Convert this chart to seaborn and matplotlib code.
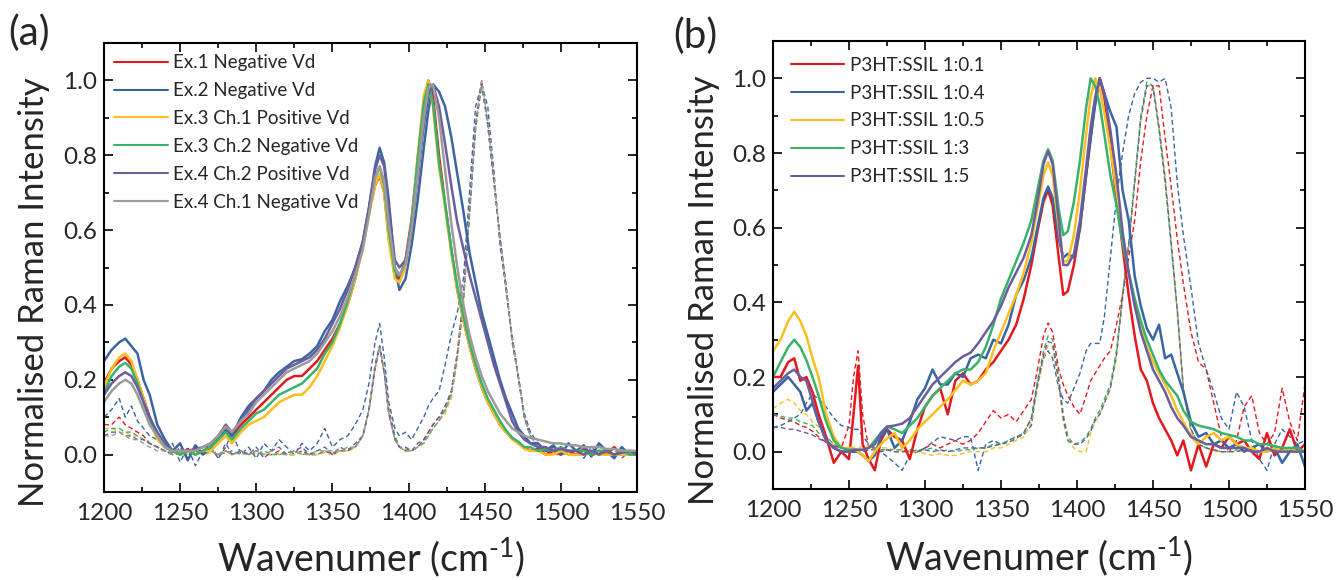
import matplotlib
matplotlib.use("Agg")
import matplotlib.pyplot as plt
import seaborn as sns
import pandas as pd
from matplotlib.lines import Line2D
from matplotlib.ticker import MultipleLocator, FormatStrFormatter

# ---------------- Panel (a) data ----------------
wn_a = [1200, 1205, 1210, 1214, 1218, 1222, 1226, 1230, 1235, 1240,
        1245, 1250, 1255, 1260, 1265, 1270, 1275, 1280, 1284, 1290,
        1295, 1300, 1305, 1310, 1315, 1320, 1325, 1330, 1335, 1340,
        1345, 1350, 1355, 1360, 1365, 1370, 1374, 1378, 1381, 1384,
        1387, 1391, 1394, 1398, 1402, 1406, 1410, 1413, 1416, 1420,
        1424, 1428, 1432, 1436, 1440, 1444, 1448, 1452, 1456, 1460,
        1464, 1468, 1472, 1476, 1480, 1485, 1490, 1495, 1500, 1505,
        1510, 1515, 1520, 1525, 1530, 1535, 1540, 1545, 1550]

a_labels = ["Ex.1 Negative Vd", "Ex.2 Negative Vd", "Ex.3 Ch.1 Positive Vd",
            "Ex.3 Ch.2 Negative Vd", "Ex.4 Ch.2 Positive Vd", "Ex.4 Ch.1 Negative Vd"]

a_ex1_solid = [0.19, 0.23, 0.25, 0.26, 0.24, 0.20, 0.15, 0.10, 0.05, 0.02,
               0.01, 0.00, 0.015, 0.00, 0.01, 0.02, 0.04, 0.065, 0.05, 0.08,
               0.10, 0.12, 0.14, 0.16, 0.18, 0.20, 0.21, 0.21, 0.23, 0.25,
               0.28, 0.31, 0.35, 0.40, 0.47, 0.56, 0.65, 0.72, 0.745, 0.70,
               0.58, 0.48, 0.47, 0.52, 0.63, 0.79, 0.93, 1.00, 0.96, 0.80,
               0.67, 0.55, 0.44, 0.36, 0.29, 0.23, 0.18, 0.14, 0.11, 0.08,
               0.06, 0.045, 0.03, 0.02, 0.01, 0.015, 0.0, 0.01, 0.0, 0.01,
               0.0, 0.015, 0.005, 0.01, 0.0, 0.02, 0.0, 0.01, 0.005]
a_ex2_solid = [0.25, 0.28, 0.30, 0.31, 0.29, 0.27, 0.20, 0.16, 0.08, 0.04,
               0.01, 0.03, -0.015, 0.025, 0.00, 0.02, 0.045, 0.07, 0.05, 0.10,
               0.13, 0.15, 0.17, 0.20, 0.22, 0.235, 0.25, 0.255, 0.27, 0.29,
               0.33, 0.36, 0.41, 0.45, 0.50, 0.57, 0.66, 0.77, 0.82, 0.78,
               0.68, 0.50, 0.44, 0.47, 0.56, 0.68, 0.82, 0.92, 0.99, 0.97,
               0.93, 0.85, 0.75, 0.65, 0.54, 0.46, 0.38, 0.32, 0.26, 0.20,
               0.15, 0.11, 0.07, 0.05, 0.03, 0.03, 0.01, 0.025, 0.0, 0.03,
               0.01, 0.025, -0.005, 0.03, 0.01, -0.01, 0.02, 0.0, 0.01]
a_ex3c1_solid = [0.18, 0.23, 0.26, 0.27, 0.25, 0.20, 0.15, 0.09, 0.04, 0.02,
                 0.01, 0.0, 0.01, 0.0, 0.01, 0.01, 0.03, 0.05, 0.03, 0.06,
                 0.08, 0.09, 0.10, 0.12, 0.14, 0.15, 0.16, 0.16, 0.18, 0.21,
                 0.25, 0.29, 0.34, 0.40, 0.47, 0.55, 0.64, 0.72, 0.75, 0.70,
                 0.57, 0.47, 0.46, 0.50, 0.62, 0.80, 0.96, 1.00, 0.93, 0.77,
                 0.66, 0.54, 0.44, 0.36, 0.29, 0.23, 0.18, 0.14, 0.11, 0.08,
                 0.06, 0.04, 0.03, 0.015, 0.01, 0.01, 0.0, 0.0, 0.01, 0.0,
                 0.0, 0.0, 0.01, 0.0, 0.0, 0.0, 0.0, 0.0, 0.0]
a_ex3c2_solid = [0.165, 0.21, 0.235, 0.245, 0.23, 0.19, 0.14, 0.09, 0.05, 0.02,
                 0.01, 0.0, 0.01, 0.0, 0.01, 0.02, 0.04, 0.06, 0.04, 0.07,
                 0.09, 0.11, 0.12, 0.14, 0.16, 0.17, 0.18, 0.19, 0.21, 0.23,
                 0.27, 0.30, 0.35, 0.41, 0.48, 0.56, 0.65, 0.74, 0.77, 0.72,
                 0.60, 0.49, 0.48, 0.51, 0.62, 0.79, 0.94, 0.99, 0.94, 0.78,
                 0.67, 0.55, 0.45, 0.37, 0.30, 0.24, 0.19, 0.15, 0.12, 0.09,
                 0.065, 0.045, 0.035, 0.02, 0.02, 0.01, 0.015, 0.01, 0.02, 0.01,
                 0.01, 0.01, 0.0, 0.01, 0.01, 0.0, 0.01, 0.0, 0.0]
a_ex4c2_solid = [0.16, 0.19, 0.21, 0.22, 0.21, 0.18, 0.14, 0.10, 0.06, 0.03,
                 0.01, 0.01, 0.01, 0.015, 0.02, 0.03, 0.05, 0.08, 0.06, 0.09,
                 0.12, 0.15, 0.17, 0.19, 0.21, 0.23, 0.24, 0.25, 0.26, 0.28,
                 0.31, 0.35, 0.39, 0.44, 0.50, 0.57, 0.66, 0.76, 0.80, 0.77,
                 0.66, 0.52, 0.50, 0.52, 0.60, 0.74, 0.88, 0.96, 0.99, 0.93,
                 0.83, 0.72, 0.62, 0.55, 0.48, 0.42, 0.36, 0.30, 0.24, 0.19,
                 0.14, 0.09, 0.06, 0.04, 0.03, 0.02, 0.02, 0.01, 0.015, 0.01,
                 0.01, 0.0, 0.01, 0.0, 0.01, 0.0, 0.005, 0.01, 0.0]
a_ex4c1_solid = [0.14, 0.17, 0.19, 0.20, 0.19, 0.16, 0.12, 0.08, 0.05, 0.02,
                 0.01, 0.01, 0.01, 0.01, 0.02, 0.03, 0.05, 0.075, 0.06, 0.09,
                 0.11, 0.14, 0.16, 0.18, 0.20, 0.22, 0.23, 0.24, 0.25, 0.27,
                 0.30, 0.33, 0.37, 0.42, 0.48, 0.55, 0.64, 0.74, 0.77, 0.73,
                 0.62, 0.50, 0.48, 0.51, 0.60, 0.75, 0.90, 0.98, 0.99, 0.90,
                 0.76, 0.62, 0.50, 0.40, 0.32, 0.26, 0.21, 0.17, 0.14, 0.11,
                 0.09, 0.07, 0.06, 0.05, 0.045, 0.04, 0.035, 0.03, 0.03, 0.025,
                 0.025, 0.02, 0.02, 0.02, 0.015, 0.015, 0.01, 0.01, 0.01]

a_ex1_dash = [0.08, 0.08, 0.10, 0.08, 0.07, 0.06, 0.05, 0.03, 0.02, 0.01,
              0.0, 0.01, 0.0, 0.01, 0.0, 0.01, 0.0, 0.01, 0.0, 0.01,
              0.0, 0.01, 0.0, 0.0, 0.01, 0.0, 0.0, 0.01, 0.0, 0.0,
              0.01, 0.0, 0.01, 0.01, 0.02, 0.05, 0.12, 0.24, 0.29, 0.22,
              0.12, 0.05, 0.02, 0.01, 0.01, 0.02, 0.04, 0.06, 0.08, 0.10,
              0.12, 0.165, 0.27, 0.42, 0.65, 0.88, 1.0, 0.88, 0.73, 0.58,
              0.45, 0.30, 0.21, 0.10, 0.05, 0.02, 0.01, 0.0, 0.01, 0.0,
              0.0, 0.01, 0.0, 0.0, 0.01, 0.0, 0.0, 0.01, 0.0]
a_ex2_dash = [0.10, 0.12, 0.15, 0.10, 0.13, 0.09, 0.07, 0.05, 0.04, 0.02,
              0.03, -0.02, 0.02, -0.03, 0.01, 0.03, -0.01, 0.02, 0.06, 0.00,
              0.02, -0.01, 0.03, 0.01, 0.04, 0.02, 0.00, 0.03, 0.01, 0.03,
              0.07, 0.02, 0.04, 0.05, 0.08, 0.12, 0.19, 0.30, 0.35, 0.26,
              0.14, 0.07, 0.05, 0.06, 0.04, 0.07, 0.10, 0.13, 0.15, 0.17,
              0.24, 0.32, 0.38, 0.47, 0.70, 0.93, 0.99, 0.93, 0.76, 0.56,
              0.44, 0.32, 0.21, 0.11, 0.06, 0.03, 0.0, 0.02, 0.0, 0.03,
              0.01, -0.01, 0.02, 0.0, 0.01, 0.02, -0.01, 0.01, 0.0]
a_ex3c1_dash = [0.07, 0.07, 0.06, 0.06, 0.05, 0.05, 0.04, 0.03, 0.02, 0.01,
                0.0, 0.005, 0.0, 0.01, 0.0, 0.005, 0.0, 0.01, 0.0, 0.005,
                0.0, 0.005, 0.0, 0.0, 0.005, 0.0, 0.0, 0.005, 0.0, 0.0,
                0.005, 0.0, 0.01, 0.01, 0.02, 0.05, 0.12, 0.23, 0.29, 0.22,
                0.11, 0.04, 0.02, 0.01, 0.01, 0.02, 0.03, 0.05, 0.07, 0.09,
                0.11, 0.15, 0.25, 0.40, 0.64, 0.87, 0.99, 0.89, 0.74, 0.58,
                0.45, 0.31, 0.21, 0.10, 0.05, 0.02, 0.01, 0.0, 0.005, 0.0,
                0.0, 0.005, 0.0, 0.0, 0.005, 0.0, 0.0, 0.005, 0.0]
a_ex3c2_dash = [0.06, 0.07, 0.07, 0.06, 0.06, 0.05, 0.04, 0.03, 0.02, 0.01,
                0.005, 0.0, 0.01, 0.0, 0.005, 0.01, 0.0, 0.005, 0.01, 0.0,
                0.005, 0.0, 0.01, 0.0, 0.0, 0.005, 0.01, 0.0, 0.005, 0.0,
                0.01, 0.005, 0.01, 0.015, 0.02, 0.05, 0.12, 0.23, 0.29, 0.22,
                0.11, 0.05, 0.02, 0.015, 0.01, 0.02, 0.035, 0.05, 0.07, 0.09,
                0.12, 0.16, 0.26, 0.41, 0.64, 0.87, 0.99, 0.89, 0.74, 0.58,
                0.45, 0.31, 0.21, 0.10, 0.05, 0.02, 0.01, 0.005, 0.0, 0.005,
                0.0, 0.005, 0.0, 0.005, 0.0, 0.0, 0.005, 0.0, 0.0]
a_ex4c2_dash = [0.05, 0.06, 0.06, 0.05, 0.05, 0.04, 0.04, 0.03, 0.02, 0.01,
                0.0, 0.02, -0.01, 0.02, 0.0, 0.02, -0.01, 0.03, 0.0, 0.01,
                0.0, 0.02, -0.01, 0.01, 0.02, 0.0, 0.01, 0.02, 0.0, 0.01,
                0.02, 0.0, 0.02, 0.01, 0.03, 0.05, 0.12, 0.23, 0.29, 0.22,
                0.11, 0.04, 0.02, 0.02, 0.01, 0.03, 0.04, 0.06, 0.08, 0.10,
                0.13, 0.17, 0.27, 0.42, 0.65, 0.88, 0.99, 0.88, 0.73, 0.58,
                0.45, 0.31, 0.21, 0.10, 0.05, 0.02, 0.01, 0.0, 0.01, 0.0,
                0.0, 0.01, 0.0, 0.0, 0.01, 0.0, 0.0, 0.01, 0.0]
a_ex4c1_dash = [0.05, 0.05, 0.06, 0.05, 0.04, 0.04, 0.03, 0.02, 0.01, 0.01,
                0.0, 0.01, 0.0, 0.01, 0.0, 0.01, 0.0, 0.01, 0.0, 0.01,
                0.0, 0.01, 0.0, 0.01, 0.0, 0.0, 0.01, 0.0, 0.0, 0.01,
                0.01, 0.01, 0.01, 0.02, 0.02, 0.05, 0.12, 0.23, 0.29, 0.22,
                0.11, 0.04, 0.02, 0.01, 0.01, 0.02, 0.03, 0.05, 0.07, 0.09,
                0.12, 0.16, 0.26, 0.41, 0.65, 0.88, 1.0, 0.89, 0.74, 0.58,
                0.45, 0.31, 0.21, 0.10, 0.05, 0.02, 0.01, 0.0, 0.0, 0.01,
                0.0, 0.0, 0.01, 0.0, 0.0, 0.01, 0.0, 0.0, 0.0]

# ---------------- Panel (b) data ----------------
wn_b = [1200, 1205, 1210, 1214, 1218, 1222, 1226, 1230, 1235, 1240,
        1245, 1250, 1253, 1256, 1259, 1263, 1267, 1271, 1275, 1280,
        1285, 1290, 1295, 1300, 1305, 1310, 1315, 1320, 1325, 1330,
        1335, 1340, 1345, 1350, 1355, 1360, 1365, 1370, 1374, 1378,
        1381, 1384, 1388, 1391, 1394, 1398, 1402, 1406, 1409, 1412,
        1415, 1418, 1422, 1426, 1430, 1434, 1438, 1442, 1446, 1450,
        1454, 1458, 1462, 1466, 1470, 1475, 1480, 1485, 1490, 1495,
        1500, 1505, 1510, 1515, 1520, 1525, 1530, 1535, 1540, 1545,
        1550]

b_labels = ["P3HT:SSIL 1:0.1", "P3HT:SSIL 1:0.4", "P3HT:SSIL 1:0.5",
            "P3HT:SSIL 1:3", "P3HT:SSIL 1:5"]

b_r01_solid = [0.20, 0.20, 0.24, 0.25, 0.19, 0.20, 0.16, 0.10, 0.04, -0.03,
               0.00, -0.02, 0.10, 0.23, 0.02, -0.02, -0.05, 0.03, 0.06, 0.04,
               0.03, -0.02, 0.06, 0.12, 0.15, 0.17, 0.10, 0.19, 0.21, 0.18,
               0.19, 0.22, 0.24, 0.27, 0.30, 0.34, 0.41, 0.50, 0.59, 0.67,
               0.70, 0.66, 0.52, 0.42, 0.43, 0.50, 0.60, 0.74, 0.84, 0.94,
               1.00, 0.95, 0.82, 0.68, 0.55, 0.42, 0.31, 0.22, 0.19, 0.13,
               0.09, 0.06, 0.03, -0.01, 0.03, -0.05, 0.02, -0.04, 0.02, 0.01,
               0.04, 0.02, 0.03, 0.0, -0.02, 0.05, -0.01, 0.01, 0.06, 0.0,
               0.02]
b_r04_solid = [0.16, 0.18, 0.20, 0.18, 0.16, 0.11, 0.13, 0.08, 0.03, 0.01,
               0.00, 0.00, 0.00, 0.00, -0.01, -0.025, -0.01, 0.04, 0.06, 0.01,
               0.03, 0.08, 0.14, 0.17, 0.22, 0.18, 0.18, 0.21, 0.20, 0.25,
               0.26, 0.25, 0.30, 0.29, 0.34, 0.42, 0.46, 0.52, 0.60, 0.68,
               0.71, 0.68, 0.57, 0.52, 0.53, 0.52, 0.60, 0.74, 0.84, 0.93,
               1.00, 0.96, 0.91, 0.87, 0.70, 0.62, 0.47, 0.39, 0.33, 0.30,
               0.34, 0.25, 0.26, 0.21, 0.16, 0.08, 0.04, 0.05, 0.02, 0.03,
               0.01, 0.02, 0.00, 0.01, 0.02, 0.0, 0.01, -0.03, 0.0, 0.02,
               -0.04]
b_r05_solid = [0.27, 0.30, 0.35, 0.375, 0.35, 0.31, 0.25, 0.20, 0.10, 0.04,
               0.01, 0.01, 0.01, 0.0, -0.01, -0.025, 0.0, 0.02, 0.035, 0.05,
               0.01, 0.03, 0.06, 0.08, 0.10, 0.12, 0.14, 0.165, 0.19, 0.18,
               0.19, 0.21, 0.27, 0.32, 0.37, 0.42, 0.48, 0.56, 0.65, 0.74,
               0.775, 0.74, 0.60, 0.51, 0.51, 0.58, 0.70, 0.85, 0.95, 1.00,
               0.97, 0.91, 0.81, 0.70, 0.58, 0.48, 0.40, 0.33, 0.28, 0.24,
               0.21, 0.18, 0.15, 0.11, 0.08, 0.04, 0.02, 0.04, 0.05, 0.03,
               0.04, 0.02, 0.01, 0.01, 0.0, 0.0, 0.01, 0.0, 0.01, 0.0,
               0.0]
b_r3_solid = [0.20, 0.24, 0.28, 0.30, 0.28, 0.245, 0.20, 0.15, 0.08, 0.03,
              0.01, 0.005, 0.005, 0.005, 0.005, 0.01, 0.03, 0.05, 0.067, 0.06,
              0.05, 0.07, 0.09, 0.12, 0.15, 0.17, 0.19, 0.21, 0.22, 0.22,
              0.24, 0.28, 0.34, 0.41, 0.46, 0.51, 0.56, 0.62, 0.70, 0.78,
              0.81, 0.78, 0.65, 0.58, 0.59, 0.67, 0.78, 0.92, 1.00, 0.98,
              0.93, 0.85, 0.74, 0.66, 0.56, 0.48, 0.41, 0.35, 0.30, 0.26,
              0.22, 0.19, 0.17, 0.15, 0.11, 0.08, 0.07, 0.065, 0.06, 0.05,
              0.045, 0.04, 0.03, 0.03, 0.02, 0.02, 0.015, 0.01, 0.01, 0.01,
              0.0]
b_r5_solid = [0.17, 0.19, 0.21, 0.22, 0.20, 0.19, 0.135, 0.08, 0.03, 0.01,
              0.0, 0.0, 0.005, 0.005, 0.005, 0.01, 0.02, 0.05, 0.067, 0.07,
              0.075, 0.09, 0.12, 0.15, 0.18, 0.20, 0.22, 0.24, 0.255, 0.265,
              0.29, 0.32, 0.35, 0.39, 0.44, 0.48, 0.52, 0.58, 0.67, 0.77,
              0.805, 0.77, 0.62, 0.50, 0.50, 0.53, 0.62, 0.76, 0.87, 0.95,
              1.00, 0.96, 0.86, 0.74, 0.59, 0.48, 0.39, 0.32, 0.27, 0.22,
              0.19, 0.16, 0.12, 0.09, 0.07, 0.04, 0.03, 0.02, 0.02, 0.01,
              0.01, 0.01, 0.01, 0.0, 0.0, 0.01, 0.0, 0.0, 0.0, 0.0,
              0.0]

b_r01_dash = [0.10, 0.09, 0.085, 0.08, 0.07, 0.065, 0.055, 0.04, 0.025, 0.015,
              0.01, 0.07, 0.20, 0.27, 0.10, 0.01, 0.01, 0.0, 0.005, 0.0,
              0.0, 0.0, 0.0, 0.01, 0.02, 0.01, 0.02, 0.03, 0.02, 0.03,
              0.05, 0.08, 0.11, 0.09, 0.10, 0.08, 0.11, 0.14, 0.22, 0.31,
              0.345, 0.32, 0.22, 0.18, 0.15, 0.12, 0.10, 0.15, 0.19, 0.21,
              0.23, 0.25, 0.27, 0.34, 0.42, 0.52, 0.62, 0.78, 0.90, 0.98,
              0.98, 0.84, 0.71, 0.57, 0.45, 0.32, 0.24, 0.22, 0.13, 0.04,
              0.0, 0.03, 0.12, 0.15, 0.05, 0.02, 0.05, 0.17, 0.08, 0.03,
              0.18]
b_r04_dash = [0.065, 0.07, 0.08, 0.09, 0.10, 0.13, 0.155, 0.14, 0.12, 0.09,
              0.07, 0.065, 0.06, 0.06, 0.04, 0.022, 0.01, 0.0, -0.013, -0.03,
              -0.05, -0.01, 0.0, 0.01, 0.025, 0.04, 0.035, 0.03, 0.04, 0.04,
              -0.05, 0.02, 0.03, 0.02, 0.03, 0.04, 0.045, 0.07, 0.18, 0.25,
              0.27, 0.25, 0.17, 0.14, 0.13, 0.17, 0.21, 0.27, 0.29, 0.29,
              0.29, 0.36, 0.52, 0.68, 0.80, 0.90, 0.96, 0.99, 1.0, 1.0,
              0.99, 1.0, 0.92, 0.72, 0.58, 0.44, 0.29, 0.22, 0.16, 0.09,
              0.06, 0.16, 0.12, 0.03, -0.02, -0.05, 0.02, 0.06, 0.04, 0.02,
              0.03]
b_r05_dash = [0.115, 0.13, 0.14, 0.13, 0.11, 0.10, 0.08, 0.067, 0.04, 0.02,
              0.01, 0.0, 0.0, 0.01, 0.015, 0.015, 0.01, 0.01, 0.01, 0.005,
              0.005, 0.0, 0.0, -0.005, -0.01, -0.005, -0.01, -0.01, -0.005, 0.0,
              0.0, 0.0, 0.01, 0.01, 0.02, 0.03, 0.04, 0.08, 0.17, 0.25,
              0.285, 0.28, 0.18, 0.08, 0.03, 0.01, 0.0, 0.0, 0.05, 0.08,
              0.10, 0.13, 0.17, 0.25, 0.42, 0.55, 0.72, 0.89, 0.98, 0.98,
              0.87, 0.74, 0.56, 0.37, 0.16, 0.05, 0.02, 0.01, 0.0, 0.0,
              0.0, 0.0, 0.01, 0.0, 0.0, 0.01, 0.0, 0.0, 0.01, 0.0,
              0.0]
b_r3_dash = [0.10, 0.095, 0.09, 0.09, 0.08, 0.075, 0.07, 0.05, 0.04, 0.02,
             0.01, 0.005, 0.005, 0.005, 0.005, 0.01, 0.01, 0.005, 0.005, 0.005,
             0.005, 0.0, 0.005, 0.005, 0.01, 0.0, 0.005, 0.0, 0.005, 0.005,
             0.01, 0.01, 0.02, 0.02, 0.03, 0.04, 0.05, 0.09, 0.19, 0.27,
             0.31, 0.30, 0.20, 0.10, 0.04, 0.02, 0.025, 0.04, 0.06, 0.09,
             0.11, 0.14, 0.18, 0.27, 0.42, 0.56, 0.73, 0.90, 0.99, 0.98,
             0.86, 0.72, 0.55, 0.38, 0.17, 0.06, 0.02, 0.01, 0.005, 0.0,
             0.0, 0.005, 0.0, 0.005, 0.0, 0.005, 0.0, 0.005, 0.0, 0.005,
             0.0]
b_r5_dash = [0.065, 0.065, 0.06, 0.06, 0.055, 0.05, 0.045, 0.035, 0.025, 0.015,
             0.01, 0.005, 0.005, 0.005, 0.0, 0.005, 0.005, 0.0, 0.005, 0.0,
             0.0, 0.005, 0.0, 0.005, 0.0, 0.005, 0.0, 0.005, 0.01, 0.01,
             0.01, 0.01, 0.015, 0.02, 0.025, 0.035, 0.05, 0.09, 0.18, 0.26,
             0.295, 0.29, 0.19, 0.09, 0.03, 0.02, 0.02, 0.035, 0.055, 0.085,
             0.10, 0.13, 0.17, 0.26, 0.41, 0.55, 0.72, 0.89, 0.98, 0.98,
             0.87, 0.73, 0.56, 0.38, 0.17, 0.06, 0.02, 0.01, 0.005, 0.0,
             0.0, 0.0, 0.005, 0.0, 0.0, 0.005, 0.0, 0.0, 0.005, 0.0,
             0.0]

# ---------------- styling ----------------
RED, BLUE, YEL, GRN, PUR, GRY = "#e3191e", "#3a65a0", "#fbbf22", "#3ab36a", "#6b5d9e", "#9b9b9b"
a_colors = [RED, BLUE, YEL, GRN, PUR, GRY]
b_colors = [RED, BLUE, YEL, GRN, PUR]

sns.set_theme(style="ticks")
plt.rcParams["font.family"] = ["Lato", "DejaVu Sans"]
plt.rcParams["mathtext.fontset"] = "custom"
plt.rcParams["mathtext.rm"] = "Lato"
plt.rcParams["mathtext.it"] = "Lato:italic"
plt.rcParams["mathtext.bf"] = "Lato:bold"
plt.rcParams["mathtext.default"] = "regular"

fig = plt.figure(figsize=(13.38, 5.8), dpi=100)
ax_a = fig.add_axes([0.0777, 0.1517, 0.3984, 0.7741])
ax_b = fig.add_axes([0.5777, 0.1569, 0.3976, 0.7724])

a_solid = [a_ex1_solid, a_ex2_solid, a_ex3c1_solid, a_ex3c2_solid, a_ex4c2_solid, a_ex4c1_solid]
a_dash = [a_ex1_dash, a_ex2_dash, a_ex3c1_dash, a_ex3c2_dash, a_ex4c2_dash, a_ex4c1_dash]
b_solid = [b_r01_solid, b_r04_solid, b_r05_solid, b_r3_solid, b_r5_solid]
b_dash = [b_r01_dash, b_r04_dash, b_r05_dash, b_r3_dash, b_r5_dash]

SOLID_LW = 1.8
DASH_LW = 1.0
DASH = (0, (3.5, 2.2))
XLABEL = "Wavenumer (cm$^{\\text{-}1}$)"


def draw(ax, wn, solids, dashes, colors):
    for vals, c in zip(dashes, colors):
        df = pd.DataFrame({"wn": wn, "val": vals})
        sns.lineplot(data=df, x="wn", y="val", ax=ax, color=c, lw=DASH_LW,
                     linestyle=DASH, errorbar=None, legend=False)
    for vals, c in zip(solids, colors):
        df = pd.DataFrame({"wn": wn, "val": vals})
        sns.lineplot(data=df, x="wn", y="val", ax=ax, color=c, lw=SOLID_LW,
                     errorbar=None, legend=False)
    ax.set_xlim(1200, 1550)
    ax.set_ylim(-0.1, 1.1)
    ax.xaxis.set_major_locator(MultipleLocator(50))
    ax.xaxis.set_minor_locator(MultipleLocator(25))
    ax.yaxis.set_major_locator(MultipleLocator(0.2))
    ax.yaxis.set_minor_locator(MultipleLocator(0.1))
    ax.yaxis.set_major_formatter(FormatStrFormatter("%.1f"))
    ax.tick_params(which="both", direction="in", top=True, right=True,
                   width=1.2, color="black")
    ax.tick_params(which="major", length=6.5, labelsize=17.5)
    ax.tick_params(which="minor", length=3.5)
    ax.tick_params(axis="x", which="major", pad=8)
    ax.tick_params(axis="y", which="major", pad=5)
    for s in ax.spines.values():
        s.set_linewidth(1.5)
        s.set_color("black")
        s.set_visible(True)
    ax.set_ylabel("Normalised Raman Intensity", fontsize=25)
    ax.set_xlabel(XLABEL, fontsize=27)
    return [Line2D([0], [0], color=c, lw=1.5) for c in colors]


h_a = draw(ax_a, wn_a, a_solid, a_dash, a_colors)
h_b = draw(ax_b, wn_b, b_solid, b_dash, b_colors)

leg_kw = dict(loc="upper left", frameon=False, fontsize=13.5, handlelength=2.85,
              handletextpad=0.3, labelspacing=0.58, borderpad=0, borderaxespad=0)
ax_a.legend(h_a, a_labels, bbox_to_anchor=(0.019, 0.975), **leg_kw)
ax_b.legend(h_b, b_labels, bbox_to_anchor=(0.033, 0.965), **leg_kw)

ax_a.yaxis.set_label_coords(-0.101, 0.444)
ax_b.yaxis.set_label_coords(-0.0996, 0.444)
for ax, yb in ((ax_a, -0.176), (ax_b, -0.180)):
    ax.xaxis.label.set_va("baseline")
    ax.xaxis.set_label_coords(0.5, yb)

fig.text(8 / 1338, 1 - 14 / 580, "(a)", fontsize=29, va="top", ha="left")
fig.text(673 / 1338, 1 - 17 / 580, "(b)", fontsize=29, va="top", ha="left")

fig.savefig("out.png", dpi=100)
